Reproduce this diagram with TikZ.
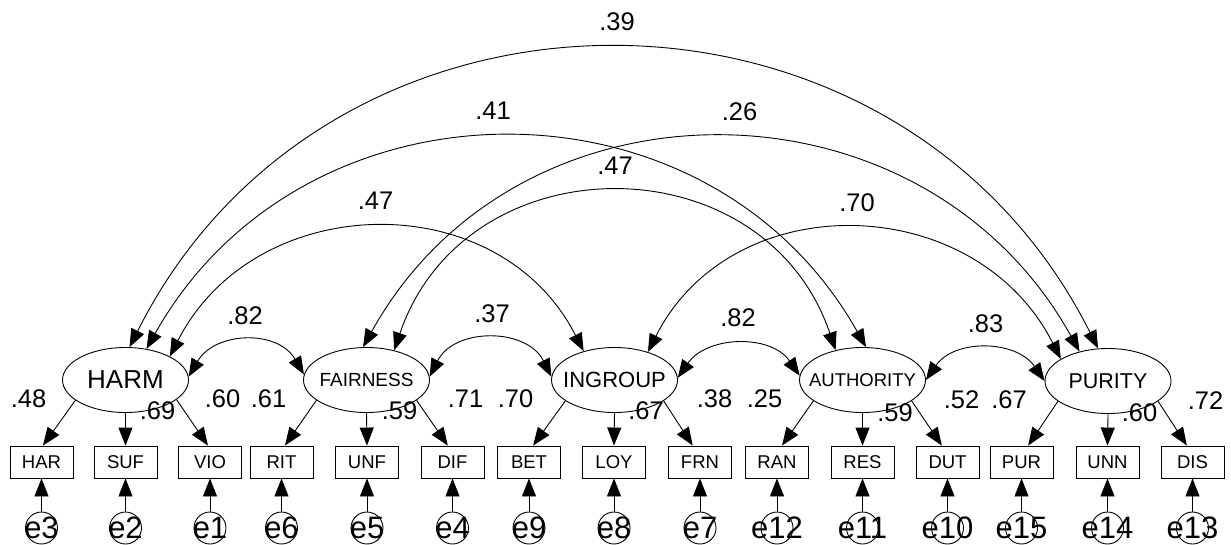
\documentclass[tikz,border=0pt]{standalone}
\usepackage{fontspec}
\setmainfont{Liberation Sans}
\usetikzlibrary{arrows.meta,shapes.geometric}
\newcommand\zerow[1]{\makebox[0pt]{#1}}
\begin{document}
\begin{tikzpicture}[x=1pt,y=1pt,
  lat/.style={ellipse,draw,line width=0.9pt,minimum width=126pt,minimum height=65pt,inner sep=0pt},
  obs/.style={rectangle,draw,line width=0.9pt,minimum width=63pt,minimum height=32pt,inner sep=0pt,font=\fontsize{18.5}{18.5}\selectfont},
  err/.style={circle,draw,line width=0.9pt,minimum size=32pt,inner sep=0pt,font=\fontsize{31}{31}\selectfont},
  lbl/.style={inner sep=0pt,font=\fontsize{25.5}{25.5}\selectfont},
  arr/.style={-{Triangle[length=18pt,width=14pt]},line width=0.9pt},
  cov/.style={{Triangle[length=18pt,width=14pt]}-{Triangle[length=18pt,width=14pt]},line width=0.9pt},
]
\useasboundingbox (0,0) rectangle (1231,-544);

% latent variables
\node[lat] (harm) at (125.5,-380) {\fontsize{26}{26}\selectfont\zerow{HARM}};
\node[lat] (fair) at (366.5,-380) {\fontsize{19}{19}\selectfont\zerow{FAIRNESS}};
\node[lat] (ing)  at (614.5,-380) {\fontsize{22}{22}\selectfont\zerow{INGROUP}};
\node[lat] (auth) at (862.5,-380) {\fontsize{18.5}{18.5}\selectfont\zerow{AUTHORITY}};
\node[lat] (pur)  at (1108,-381)  {\fontsize{21.5}{21.5}\selectfont\zerow{PURITY}};

% observed variables
\node[obs] (har)  at (41.5,-462)   {HAR};
\node[obs] (suf)  at (125.5,-462)  {SUF};
\node[obs] (vio)  at (210,-462)    {VIO};
\node[obs] (rit)  at (281.5,-462)  {RIT};
\node[obs] (unf)  at (367,-462)    {UNF};
\node[obs] (dif)  at (452.5,-462)  {DIF};
\node[obs] (bet)  at (529,-462)    {BET};
\node[obs] (loy)  at (614,-462)    {LOY};
\node[obs] (frn)  at (700,-462)    {FRN};
\node[obs] (ran)  at (777,-462)    {RAN};
\node[obs] (res)  at (862.5,-462)  {RES};
\node[obs] (dut)  at (947.5,-462)  {DUT};
\node[obs] (purb) at (1021.5,-462) {PUR};
\node[obs] (unn)  at (1107.5,-462) {UNN};
\node[obs] (dis)  at (1192.5,-462) {DIS};

% error terms
\node[err] (e3)  at (41.5,-528)   {\zerow{e3}};
\node[err] (e2)  at (125.5,-528)  {\zerow{e2}};
\node[err] (e1)  at (210,-528)    {\zerow{e1}};
\node[err] (e6)  at (281.5,-528)  {\zerow{e6}};
\node[err] (e5)  at (367,-528)    {\zerow{e5}};
\node[err] (e4)  at (452.5,-528)  {\zerow{e4}};
\node[err] (e9)  at (529,-528)    {\zerow{e9}};
\node[err] (e8)  at (614,-528)    {\zerow{e8}};
\node[err] (e7)  at (700,-528)    {\zerow{e7}};
\node[err] (e12) at (777,-528)    {\zerow{e12}};
\node[err] (e11) at (862.5,-528)  {\zerow{e11}};
\node[err] (e10) at (947.5,-528)  {\zerow{e10}};
\node[err] (e15) at (1021.5,-528) {\zerow{e15}};
\node[err] (e14) at (1107.5,-528) {\zerow{e14}};
\node[err] (e13) at (1192.5,-528) {\zerow{e13}};

% error arrows
\foreach \e/\b in {e3/har,e2/suf,e1/vio,e6/rit,e5/unf,e4/dif,e9/bet,e8/loy,e7/frn,e12/ran,e11/res,e10/dut,e15/purb,e14/unn,e13/dis}
  \draw[arr] (\e.north) -- (\b.south);

% loadings
\draw[arr] (harm.202) -- (har.85);
\draw[arr] (harm.south) -- (suf.north);
\draw[arr] (harm.339) -- (vio.97);
\draw[arr] (fair.202) -- (rit.78);
\draw[arr] (fair.south) -- (unf.north);
\draw[arr] (fair.338) -- (dif.106);
\draw[arr] (ing.203) -- (bet.76);
\draw[arr] (ing.south) -- (loy.north);
\draw[arr] (ing.337) -- (frn.114);
\draw[arr] (auth.203) -- (ran.73);
\draw[arr] (auth.south) -- (res.north);
\draw[arr] (auth.337) -- (dut.109);
\draw[arr] (pur.202) -- (purb.68);
\draw[arr] (pur.south) -- (unn.north);
\draw[arr] (pur.338) -- (dis.109);

% covariances
\draw[cov] (harm.83) .. controls +(200,398) and +(-200,398) .. (pur.107);
\draw[cov] (harm.56) .. controls +(157.5,280) and +(-157.5,280) .. (auth.84);
\draw[cov] (harm.28) .. controls +(85.4,167.3) and +(-85.4,167.3) .. (ing.137);
\draw[cov] (fair.96) .. controls +(156,281) and +(-156,281) .. (pur.134);
\draw[cov] (fair.47) .. controls +(71.5,210) and +(-71.5,210) .. (auth.132);
\draw[cov] (ing.40) .. controls +(85,168) and +(-85,168) .. (pur.155);
\draw[cov] (harm.3) .. controls +(26.3,45.3) and +(-26.3,45.3) .. (fair.175);
\draw[cov] (fair.3) .. controls +(24.8,49.3) and +(-24.8,49.3) .. (ing.177);
\draw[cov] (ing.2) .. controls +(29,42) and +(-29,42) .. (auth.176);
\draw[cov] (auth.0) .. controls +(28.5,41.3) and +(-28.5,41.3) .. (pur.180);

% covariance labels
\node[lbl] (c39) at (617,-22) {.39};
\node[lbl] (c41) at (493,-111) {.41};
\node[lbl] (c47a) at (375.5,-201) {.47};
\node[lbl] (c47b) at (615,-166) {.47};
\node[lbl] (c26) at (739.5,-111.5) {.26};
\node[lbl] (c70) at (857,-203) {.70};
\node[lbl] (c82a) at (245,-316) {.82};
\node[lbl] (c37) at (492,-313.5) {.37};
\node[lbl] (c82b) at (738,-317.5) {.82};
\node[lbl] (c83) at (985.5,-323.5) {.83};

% loading / r-square labels
\node[lbl] (l48) at (28.5,-399) {.48};
\node[lbl] (l69) at (157.5,-411) {.69};
\node[lbl] (l60) at (222.5,-399) {.60};
\node[lbl] (l61) at (268.5,-399) {.61};
\node[lbl] (l59a) at (399.5,-411) {.59};
\node[lbl] (l71) at (465.5,-399) {.71};
\node[lbl] (l70) at (515.5,-399) {.70};
\node[lbl] (l67a) at (646,-411) {.67};
\node[lbl] (l38) at (714.5,-399) {.38};
\node[lbl] (l25) at (764.5,-399) {.25};
\node[lbl] (l59b) at (895,-412.5) {.59};
\node[lbl] (l52) at (961.5,-400) {.52};
\node[lbl] (l67b) at (1009,-400) {.67};
\node[lbl] (l60b) at (1139.5,-412.5) {.60};
\node[lbl] (l72) at (1205.5,-401) {.72};
\end{tikzpicture}
\end{document}
